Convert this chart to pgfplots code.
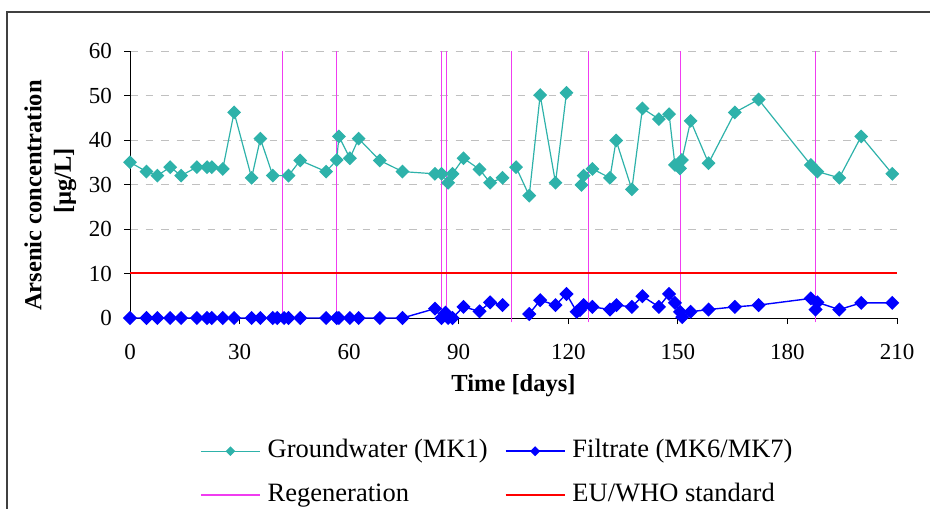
\documentclass[border=0pt]{standalone}
\usepackage{fontspec}
\setmainfont{Liberation Serif}
\usepackage{pgfplots}
\pgfplotsset{compat=1.18}
\definecolor{gw}{RGB}{46,178,170}
\definecolor{filt}{RGB}{0,0,255}
\definecolor{regen}{RGB}{240,60,240}
\definecolor{gridc}{RGB}{192,192,192}
\definecolor{stdred}{RGB}{255,0,0}
\begin{document}
\begin{tikzpicture}
\useasboundingbox (0,0) rectangle (930bp,509bp);
\draw[line width=1.5bp, black!75] (7bp,-2bp) -- (7bp,497bp) -- (932bp,497bp);
\begin{axis}[
  at={(130bp,191bp)}, anchor=south west, scale only axis,
  width=767bp, height=267bp,
  xmin=0, xmax=210, ymin=0, ymax=60,
  xtick={0,30,...,210}, ytick={0,10,...,60},
  axis x line*=bottom, axis y line*=left,
  axis line style={-, line width=1bp, black},
  tick align=outside, major tick length=6bp,
  tick style={black, line width=1bp},
  ymajorgrids,
  major grid style={dash pattern=on 7.5bp off 8bp, line width=1bp, color=gridc},
  /pgf/number format/assume math mode=true,
  ticklabel style={font=\fontsize{23bp}{23bp}\selectfont},
  xticklabel style={inner sep=0pt, anchor=north, yshift=-20bp},
  yticklabel style={inner sep=0pt, anchor=east, xshift=-12bp},
  xlabel={Time [days]},
  xlabel style={font=\bfseries\fontsize{24.5bp}{24.5bp}\selectfont, at={(axis description cs:0.5,-0.277)}, anchor=base},
  clip=false, unbounded coords=jump,
  legend columns=2, legend cell align=left,
  legend style={draw=none, fill=none, at={(0.0874,-0.4457)}, anchor=north west,
    font=\fontsize{26.5bp}{26.5bp}\selectfont,
    nodes={inner sep=0pt, text height=18bp, text depth=6bp},
    row sep=20bp,
    /tikz/every even column/.append style={column sep=17bp},
    /tikz/every odd column/.append style={column sep=7bp}},
  legend image code/.code={\draw[mark repeat=2,mark phase=2,mark size=2.8bp] plot coordinates {(0bp,0bp) (29.5bp,0bp) (59bp,0bp)};},
]
\addplot[color=gw, line width=1.2bp, mark=square*, mark size=4.3bp, mark options={rotate=45, solid, fill=gw}] coordinates {
(0,35.0) (4.5,32.9) (7.5,32.0) (11,33.9) (14,32.0) (18.3,33.9) (21.1,33.9) (22.4,33.9)
(25.4,33.5) (28.5,46.2) (33.3,31.5) (35.7,40.3) (39.1,32.0) (43.4,32.0) (46.6,35.4)
(53.7,32.9) (56.6,35.5) (57.2,40.8) (60.2,35.9) (62.6,40.3) (68.4,35.4) (74.6,32.9)
(83.5,32.4) (85.3,32.4) (87.1,30.4) (88.3,32.4) (91.3,35.9) (95.7,33.4) (98.6,30.4)
(102,31.5) (104,nan) (105.7,33.9) (109.3,27.5) (112.3,50.1) (116.5,30.4) (119.5,50.6)
(121,nan) (123.6,29.9) (124.2,32.0) (126.6,33.5) (131.4,31.5) (133.1,39.9) (137.4,28.9)
(140.3,47.1) (144.8,44.7) (147.6,45.8) (149.2,34.4) (150.6,33.6) (151.1,35.5) (153.5,44.3)
(158.4,34.8) (165.6,46.2) (172.1,49.1) (186.4,34.4) (188.2,32.9) (194.2,31.5) (200.2,40.8)
(208.7,32.4)
};
\addlegendentry{Groundwater (MK1)}
\addplot[color=filt, line width=1.4bp, mark=square*, mark size=4.3bp, mark options={rotate=45, solid, fill=filt}] coordinates {
(0,0) (4.5,0) (7.5,0) (11,0) (14,0) (18.3,0) (21.1,0) (22.4,0) (25.4,0) (28.5,0)
(33.3,0) (35.7,0) (39.1,0) (40.3,0) (42.2,0) (43.4,0) (46.6,0) (53.7,0) (56.6,0)
(57.2,0) (60.2,0) (62.6,0) (68.4,0) (74.6,0)
(83.5,2.1) (85.3,0) (86.4,1.2) (87.1,0) (88.3,0) (91.3,2.5) (95.7,1.5) (98.6,3.5)
(102,2.9) (105,nan) (109.3,0.9) (112.3,4.0) (116.5,2.9) (119.5,5.4) (122.3,1.4)
(123.2,1.8) (124.2,2.9) (126.6,2.5) (131.4,1.9) (133.2,2.9) (137.4,2.5) (140.3,4.9)
(144.8,2.5) (147.6,5.4) (149.2,3.4) (150.6,1.4) (151.2,0.2) (153.5,1.4) (158.4,1.9)
(165.6,2.5) (172.1,2.9) (186.4,4.4) (187.7,1.9) (188.2,3.5) (194.2,1.9) (200.2,3.4)
(208.7,3.4)
};
\addlegendentry{Filtrate (MK6/MK7)}
\addplot[color=regen, line width=1.5bp] coordinates {
(41.7,-1) (41.7,60) (41.7,nan)
(56.5,-1) (56.5,60) (56.5,nan)
(85.3,-1) (85.3,60) (85.3,nan)
(86.7,-1) (86.7,60) (86.7,nan)
(104.4,-1) (104.4,60) (104.4,nan)
(125.5,-1) (125.5,60) (125.5,nan)
(150.7,-1) (150.7,60) (150.7,nan)
(187.7,-1) (187.7,60)
};
\addlegendentry{Regeneration}
\addplot[color=stdred, line width=1.7bp] coordinates {(0,10.05) (210,10.05)};
\addlegendentry{EU/WHO standard}
\end{axis}
\node[rotate=90, font=\bfseries\fontsize{24.5bp}{24.5bp}\selectfont] at (33bp,313.5bp) {Arsenic concentration};
\node[rotate=90, font=\bfseries\fontsize{24.5bp}{24.5bp}\selectfont] at (65bp,328bp) {[µg/L]};
\end{tikzpicture}
\end{document}
